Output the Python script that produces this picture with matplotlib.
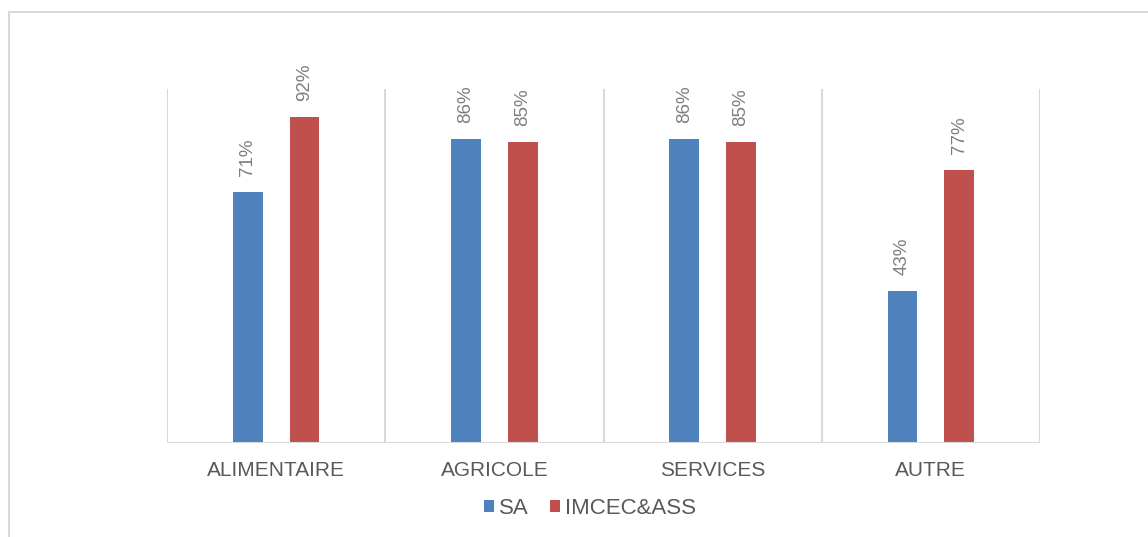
import matplotlib
matplotlib.use("Agg")
import matplotlib.pyplot as plt
from matplotlib.patches import Rectangle, Patch
import numpy as np

categories = ["ALIMENTAIRE", "AGRICOLE", "SERVICES", "AUTRE"]
series_names = ["SA", "IMCEC&ASS"]
sa_values = [0.71, 0.86, 0.86, 0.43]
imcec_values = [0.92, 0.85, 0.85, 0.77]
colors = ["#4f81bd", "#c0504d"]

plt.rcParams['font.family'] = ['Liberation Sans', 'DejaVu Sans']

fig = plt.figure(figsize=(11.48, 5.37), dpi=100)
ax = fig.add_axes([167/1148, 1-443/537, (1040-167)/1148, (443-89)/537])

x = np.arange(len(categories))
w = 0.137
off = 0.13
b1 = ax.bar(x - off, sa_values, w, color=colors[0], zorder=3)
b2 = ax.bar(x + off, imcec_values, w, color=colors[1], zorder=3)

for bars, vals in ((b1, sa_values), (b2, imcec_values)):
    for r, v in zip(bars, vals):
        ax.annotate(f"{round(v*100)}%", (r.get_x() + r.get_width()/2, v),
                    xytext=(0, 11.5), textcoords="offset points",
                    rotation=90, ha="center", va="bottom",
                    fontsize=13.5, color="#7f7f7f")

ax.set_xlim(-0.5, len(categories) - 0.5)
ax.set_ylim(0, 1.0)
for b in np.arange(-0.5, len(categories), 1.0):
    ax.axvline(b, color="#d9d9d9", lw=1.5, zorder=1)
for s in ax.spines.values():
    s.set_visible(False)
ax.axhline(0, color="#d9d9d9", lw=1.5, zorder=4)
ax.set_yticks([])
ax.set_xticks(x)
ax.set_xticklabels(categories, fontsize=15, color="#595959")
ax.tick_params(axis="x", length=0, pad=13)

handles = [Patch(facecolor=c, edgecolor="none") for c in colors]
leg = fig.legend(handles, series_names, loc="center",
                 bbox_to_anchor=(590/1148, 1-508/537), ncol=2, frameon=False,
                 fontsize=16, handlelength=0.45, handleheight=0.45,
                 handletextpad=0.2, columnspacing=1.0, labelcolor="#595959")

fig.patches.append(Rectangle((9/1148, -0.1), 1.2, 0.1 + (1-12/537),
                             transform=fig.transFigure, fill=False,
                             edgecolor="#d9d9d9", lw=1.5))

fig.savefig("out.png", dpi=100, facecolor="white")
